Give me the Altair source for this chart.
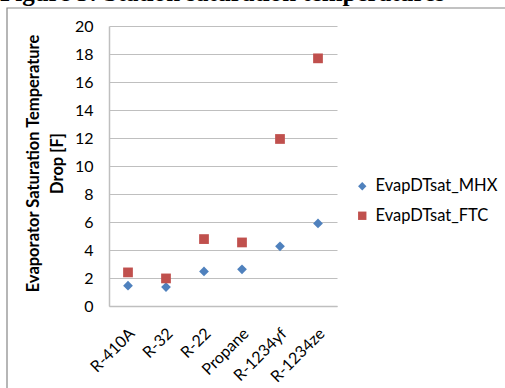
import altair as alt
import pandas as pd

categories = ["R-410A", "R-32", "R-22", "Propane", "R-1234yf", "R-1234ze"]
mhx = [1.45, 1.35, 2.47, 2.62, 4.26, 5.90]
ftc = [2.40, 1.97, 4.78, 4.54, 11.93, 17.69]
series_names = ["EvapDTsat_MHX", "EvapDTsat_FTC"]
y_ticks = list(range(0, 21, 2))

rows = []
for c, v in zip(categories, mhx):
    rows.append({"cat": c, "series": series_names[0], "value": v})
for c, v in zip(categories, ftc):
    rows.append({"cat": c, "series": series_names[1], "value": v})
df = pd.DataFrame(rows)

FONT = "Lato"

legend_cfg = dict(title=None, orient="none", legendX=245, legendY=152,
                  labelFont=FONT, labelFontSize=16.5, labelColor="#000000",
                  symbolSize=70, rowPadding=12.5, labelOffset=5)

points = alt.Chart(df).mark_point(filled=True, opacity=1, size=95).encode(
    x=alt.X("cat:N", sort=categories,
            scale=alt.Scale(paddingInner=0, paddingOuter=0),
            axis=alt.Axis(title=None, labelAngle=-45, labelAlign="right",
                          labelBaseline="top", labelFontSize=16,
                          labelFont=FONT, labelColor="#000000",
                          ticks=False, labelPadding=19, labelOffset=-2, grid=False,
                          domainColor="#BFBFBF", domainWidth=1.5)),
    y=alt.Y("value:Q", scale=alt.Scale(domain=[0, 20], nice=False),
            axis=alt.Axis(values=y_ticks, title=["Evaporator Saturation Temperature", "Drop [F]"],
                          titleFont=FONT, titleFontSize=16.5, titleFontWeight="bold",
                          titleColor="#000000", titleLineHeight=24,
                          titleX=-68, titleY=137,
                          labelFont=FONT, labelFontSize=16, labelColor="#000000",
                          ticks=False, labelPadding=16, grid=True,
                          gridColor="#BFBFBF", gridWidth=1.2,
                          domainColor="#BFBFBF", domainWidth=1.5)),
    color=alt.Color("series:N", sort=series_names,
                    scale=alt.Scale(domain=series_names, range=["#4F81BD", "#C0504D"]),
                    legend=alt.Legend(**legend_cfg)),
    shape=alt.Shape("series:N", sort=series_names,
                    scale=alt.Scale(domain=series_names, range=["diamond", "square"]),
                    legend=alt.Legend(**legend_cfg)),
)

frame = alt.Chart(pd.DataFrame({"a": [0]})).mark_rect(
    fill=None, stroke="#868686", strokeWidth=1.2
).encode(x=alt.value(-102), y=alt.value(-18), x2=alt.value(450), y2=alt.value(400))

caption = alt.Chart(pd.DataFrame({"a": [0]})).mark_text(
    text="Figure 5: Station saturation temperatures", font="Liberation Serif",
    fontSize=25, fontWeight="bold", align="left", baseline="alphabetic", color="#000000"
).encode(x=alt.value(-109), y=alt.value(-25))

chart = alt.layer(frame, caption, points).properties(
    width=228, height=280,
    padding={"left": 109, "top": 26, "right": 168, "bottom": 82},
    autosize=alt.AutoSizeParams(type="none"),
    background="#FFFFFF",
).configure_view(stroke=None)

chart.save("out.html", embed_options={"renderer": "svg", "actions": False})
